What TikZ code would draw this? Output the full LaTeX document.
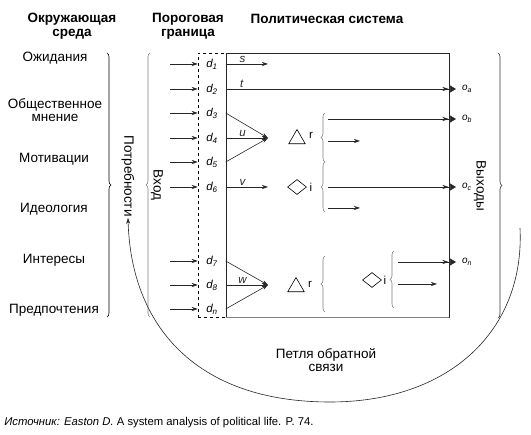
\documentclass[tikz,border=0pt]{standalone}
\usepackage{fontspec}
\setmainfont{Liberation Sans}
\usetikzlibrary{arrows.meta}
\usetikzlibrary{decorations.pathreplacing,shapes.geometric}

\tikzset{
  lbl/.style={font=\fontsize{13.5}{13}\selectfont, inner sep=1pt},
  ttl/.style={font=\bfseries\fontsize{13.5}{14}\selectfont, align=center, inner sep=1pt},
  dlbl/.style={font=\itshape\fontsize{11.5}{11}\selectfont, inner sep=1pt},
  olbl/.style={font=\itshape\fontsize{10}{10}\selectfont, inner sep=0pt, outer sep=6pt, anchor=west},
  inarr/.style={-{Stealth[length=6pt,width=4pt]}, black!85},
  outarr/.style={-{Stealth[length=6pt,width=4pt,sep=1.5pt]Triangle[length=6pt,width=7pt]}, black!85},
  brc/.style={decorate, decoration={brace,amplitude=4pt}, gray},
}

\begin{document}
\begin{tikzpicture}[x=1pt,y=-1pt,line width=0.6pt]
\useasboundingbox (0,0) rectangle (531,435);

\node[ttl] (envt) at (72,26) {Окружающая\\среда};
\node[ttl] (gatet) at (188,26) {Пороговая\\граница};
\node[ttl] (syst) at (327,19) {Политическая система};

\node[lbl] (exp) at (55,58) {Ожидания};
\node[lbl, align=center] (opin) at (55,110) {Общественное\\мнение};
\node[lbl] (mot) at (54,159) {Мотивации};
\node[lbl] (ideo) at (54,209) {Идеология};
\node[lbl] (intr) at (54,260) {Интересы};
\node[lbl] (pref) at (54,310) {Предпочтения};

\draw[brc, black] (107,53) -- (107,317);
\draw[brc] (150,317) -- (150,53);
\draw[brc, black!80] (498,53) -- (498,318);

\node[lbl, rotate=-90] (needs) at (128,176) {Потребности};
\node[lbl, rotate=-90] (inp) at (157,185) {Вход};
\node[lbl, rotate=-90] (outp) at (480,186) {Выходы};

\node[draw, dashed, line width=0.5pt, minimum width=28pt, minimum height=264pt, inner sep=0pt] (gate) at (212,185) {};
\node[draw, black!85, minimum width=223pt, minimum height=264pt, inner sep=0pt] (sys) at (337.5,185) {};
\draw[gray] (sys.south west) -- (sys.south east);

\foreach \n/\y in {1/64,2/89,3/113,4/138,5/162,6/187,7/261,8/285,n/309}{
  \node[dlbl] (d\n) at (212,\y) {d\textsubscript{\n}};
  \coordinate (in\n) at (170,\y);
  \draw[inarr] (in\n) -- (gate.west |- d\n);
}

\node[olbl] (oa) at (456,89) {o\textsubscript{a}};
\node[olbl] (ob) at (456,119) {o\textsubscript{b}};
\node[olbl] (oc) at (456,187) {o\textsubscript{c}};
\node[olbl] (on) at (456,262) {o\textsubscript{n}};

\coordinate (send) at (268,64);
\coordinate (uc) at (268,138);
\coordinate (vend) at (268,187);
\coordinate (wc) at (268,285);
\draw[inarr] (sys.west |- d1) -- (send) node[dlbl, pos=0.4, above] (lbls) {s};
\draw[outarr] (sys.west |- d2) -- (oa.west) node[dlbl, pos=0.07, above] (lblt) {t};
\draw[inarr] (sys.west |- d3) -- (uc);
\draw[inarr] (sys.west |- d4) -- (uc) node[dlbl, pos=0.4, above] (lblu) {u};
\draw[inarr] (sys.west |- d5) -- (uc);
\draw[inarr] (sys.west |- d6) -- (vend) node[dlbl, pos=0.4, above] (lblv) {v};
\draw[inarr] (sys.west |- d7) -- (wc);
\draw[inarr] (sys.west |- d8) -- (wc) node[dlbl, pos=0.4, above] (lblw) {w};
\draw[inarr] (sys.west |- dn) -- (wc);

\node[draw, regular polygon, regular polygon sides=3, minimum size=19pt, inner sep=0pt] (tri1) at (297,139) {};
\node[draw, diamond, minimum width=19pt, minimum height=15pt, inner sep=0pt] (dia1) at (297,187) {};
\node[draw, regular polygon, regular polygon sides=3, minimum size=19pt, inner sep=0pt] (tri2) at (296,287) {};
\node[draw, diamond, minimum width=19pt, minimum height=15pt, inner sep=0pt] (dia2) at (372,280) {};
\node[lbl, font=\fontsize{11.5}{11}\selectfont] (r1) at (311,135) {r};
\node[lbl, font=\fontsize{11.5}{11}\selectfont] (i1) at (311,187) {i};
\node[lbl, font=\fontsize{11.5}{11}\selectfont] (r2) at (310,284) {r};
\node[lbl, font=\fontsize{11.5}{11}\selectfont] (i2) at (385,280) {i};

\draw[brc] (325,162) -- (325,113);
\draw[brc] (325,212) -- (325,162);
\draw[brc] (325,312) -- (325,256);
\draw[brc] (394,308) -- (394,251);

\coordinate (b1) at (328,119);
\coordinate (b2) at (328,141);
\coordinate (b2e) at (360,141);
\coordinate (b3) at (328,187);
\coordinate (b4) at (328,208);
\coordinate (b4e) at (360,208);
\coordinate (b5) at (398,262);
\coordinate (b6) at (398,284);
\coordinate (b6e) at (437,284);
\draw[outarr] (b1) -- (ob.west);
\draw[inarr] (b2) -- (b2e);
\draw[outarr] (b3) -- (oc.west);
\draw[inarr] (b4) -- (b4e);
\draw[outarr] (b5) -- (on.west);
\draw[inarr] (b6) -- (b6e);

\coordinate (fb) at (520,228);
\draw[-{Stealth[length=6pt,width=4pt]}, black!85] (fb) .. controls (525,330) and (450,402) .. (330,402)
  .. controls (195,402) and (131,325) .. (needs.east);
\node[lbl, align=center] (fbl) at (326,360) {Петля обратной\\связи};

\node[anchor=west, font=\fontsize{11.3}{11}\selectfont, inner sep=0pt] (src) at (4,423) {\textit{Источник: Easton D.} A system analysis of political life. P. 74.};
\end{tikzpicture}
\end{document}
